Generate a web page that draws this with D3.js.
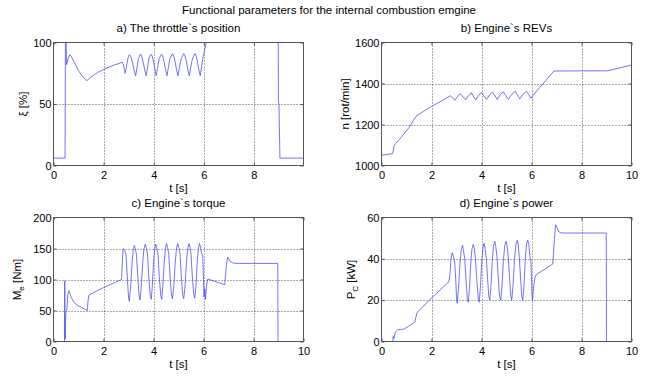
<!DOCTYPE html>
<html><head><meta charset="utf-8">
<script src="https://cdn.jsdelivr.net/npm/d3@7"></script>
<style>body{margin:0;background:#fff} text{font-family:"Liberation Sans",Arial,sans-serif;fill:#000}</style>
</head><body><svg id="c" width="648" height="378"></svg>
<script>
// ---- data ----
const figTitle = "Functional parameters for the internal combustion emgine";
const panelTitles = ["a) The throttle`s position", "b) Engine`s REVs", "c) Engine`s torque", "d) Engine`s power"];
const xLabel = "t [s]";

const xTicksA = [0, 2, 4, 6, 8];
const xTicks = [0, 2, 4, 6, 8, 10];
const yTicksA = [0, 50, 100];
const yTicksB = [1000, 1200, 1400, 1600];
const yTicksC = [0, 50, 100, 150, 200];
const yTicksD = [0, 20, 40, 60];

// throttle position xi [%]  (t [s], value)
const throttle = [
 [0,6],[0.45,6],[0.46,6],[0.48,115],[0.50,105],[0.52,82],[0.55,84],[0.60,88],[0.65,90],[0.70,89],
 [0.80,85],[0.90,81],[1.00,77],[1.10,74],[1.20,71.5],[1.33,69],[1.50,72],[1.80,76],[2.10,79],[2.40,81.5],[2.75,84],
 [2.80,81],[2.86,75],[2.91,80],[2.97,87],[3.03,90],[3.09,88.5],[3.15,84],[3.21,78],[3.28,73],
 [3.33,79],[3.39,87],[3.47,90.5],[3.52,89],[3.58,84],[3.64,78],[3.70,73],
 [3.75,79],[3.81,87],[3.89,90.5],[3.94,89],[4.00,84],[4.05,78],[4.10,73],
 [4.15,79],[4.22,87],[4.31,90.5],[4.36,89],[4.42,84],[4.47,78],[4.53,73],
 [4.58,79],[4.65,87],[4.75,91],[4.80,89],[4.86,84],[4.91,78],[4.97,73],
 [5.02,79],[5.10,87],[5.20,91],[5.25,89],[5.31,84],[5.36,78],[5.42,73],
 [5.47,79],[5.55,87],[5.65,91],[5.70,89],[5.75,84],[5.80,78],[5.86,73],
 [5.91,80],[5.97,88],[6.03,94],[6.10,100],[6.20,112],[8.97,112],[8.98,53],[9.00,50],[9.04,6],[9.98,6]
];

// engine speed n [rot/min]
const revs = [
 [0,1050],[0.45,1058],[0.50,1095],[0.55,1104],[0.80,1140],[1.10,1185],[1.38,1240],[1.70,1266],[2.00,1288],[2.40,1315],[2.75,1340],
 [2.85,1330],[2.93,1318],[3.05,1338],[3.16,1350],[3.27,1334],[3.37,1320],[3.48,1341],[3.59,1355],[3.68,1337],[3.77,1320],
 [3.89,1343],[4.00,1357],[4.10,1339],[4.20,1322],[4.32,1344],[4.44,1358],[4.54,1340],[4.63,1322],[4.75,1345],[4.87,1360],
 [4.97,1341],[5.07,1323],[5.21,1347],[5.35,1362],[5.44,1343],[5.53,1325],[5.66,1348],[5.80,1362],[5.89,1345],[5.98,1328],
 [6.10,1348],[6.50,1404],[6.90,1461],[9.05,1462],[10,1490]
];

// engine torque Me [Nm]
const torque = [
 [0,0],[0.44,0],[0.45,98],[0.46,10],[0.47,4],[0.49,45],[0.53,50],[0.58,78],[0.62,82],[0.70,72],[0.80,64],[0.93,59],[1.35,50],
 [1.38,65],[1.42,75],[2.00,87],[2.72,100],
 [2.75,125],[2.78,148],[2.80,150],[2.84,147],[2.90,141],[2.95,105],[3.00,72],[3.03,65],
 [3.08,85],[3.14,125],[3.19,148],[3.23,155],[3.27,150],[3.32,140],[3.37,105],[3.42,75],[3.46,67],
 [3.51,88],[3.57,128],[3.62,150],[3.67,157],[3.71,151],[3.76,141],[3.81,105],[3.87,74],[3.91,68],
 [3.95,88],[4.00,128],[4.05,150],[4.09,157],[4.13,151],[4.18,141],[4.23,105],[4.29,74],[4.33,68],
 [4.37,88],[4.43,128],[4.48,151],[4.52,158],[4.56,152],[4.61,142],[4.66,106],[4.72,75],[4.76,69],
 [4.81,88],[4.87,128],[4.92,151],[4.97,158],[5.01,152],[5.06,142],[5.11,106],[5.17,75],[5.21,69],
 [5.26,89],[5.32,129],[5.37,151],[5.42,158],[5.46,152],[5.50,142],[5.55,106],[5.61,76],[5.65,70],
 [5.70,90],[5.75,129],[5.80,151],[5.84,158],[5.88,152],[5.92,143],[5.97,138],[6.00,100],[6.02,72],[6.05,85],[6.08,68],
 [6.12,90],[6.17,101],[6.30,99],[6.60,95],[6.85,91.5],[6.92,125],[6.97,136],[7.05,130],[7.15,127],[7.30,126],
 [8.97,126],[8.98,0],[10,0]
];

// engine power Pc [kW]
const power = [
 [0,0],[0.45,0],[0.47,2.5],[0.50,1.5],[0.55,4.5],[0.65,5.7],[0.90,6],[1.33,9.3],[1.36,11],[1.42,14],[2.00,21],[2.70,29],
 [2.74,33],[2.78,40],[2.83,43],[2.88,41],[2.93,38],[2.97,30],[3.00,21],[3.03,18.5],
 [3.08,26],[3.14,38],[3.19,44.5],[3.24,46.5],[3.28,44],[3.33,40],[3.38,30],[3.43,21],[3.47,19],
 [3.52,26],[3.57,38],[3.62,45],[3.67,47],[3.71,45],[3.76,40],[3.81,30],[3.87,21],[3.91,19],
 [3.96,27],[4.01,39],[4.06,45.5],[4.10,47.5],[4.14,45.5],[4.19,40.5],[4.24,31],[4.29,22],[4.33,20],
 [4.38,27],[4.43,39],[4.48,46],[4.53,48.5],[4.57,46],[4.62,41],[4.67,31],[4.72,22],[4.77,20],
 [4.82,27],[4.88,40],[4.93,46.5],[4.98,48.5],[5.02,46.5],[5.07,41],[5.12,31],[5.17,22],[5.21,20],
 [5.26,27],[5.32,40],[5.38,47],[5.43,49],[5.47,47],[5.51,41],[5.56,31],[5.61,22],[5.65,20],
 [5.70,27],[5.75,40],[5.80,47],[5.85,49],[5.89,47],[5.94,41],[5.98,38],[6.00,30],[6.02,22],[6.04,20],
 [6.07,24],[6.10,28],[6.14,31],[6.20,32.5],[6.40,34],[6.85,37.5],[6.92,50],[6.96,56.5],[7.02,55],[7.10,53],[7.20,52.5],
 [8.99,52.5],[9.00,0],[10,0]
];

// ---- layout ----
const svg = d3.select("#c");
svg.append("rect").attr("width",648).attr("height",378).attr("fill","#fff");

svg.append("text").attr("x",329).attr("y",13.5).attr("text-anchor","middle")
  .style("font-size","11.5px").text(figTitle);

const panels = [
 {x0:53.5,x1:303.5,y0:42.5,y1:165.5,xd:[0,9.98],yd:[0,100],xt:xTicksA,yt:yTicksA,data:throttle,title:panelTitles[0],ylab:["ξ","", " [%]"],ylx:27},
 {x0:381.5,x1:631.5,y0:42.5,y1:165.5,xd:[0,10],yd:[1000,1600],xt:xTicks,yt:yTicksB,data:revs,title:panelTitles[1],ylab:["n","", " [rot/min]"],ylx:349},
 {x0:53.5,x1:303.5,y0:217.5,y1:341.5,xd:[0,10],yd:[0,200],xt:xTicks,yt:yTicksC,data:torque,title:panelTitles[2],ylab:["M","e"," [Nm]"],ylx:21},
 {x0:381.5,x1:631.5,y0:217.5,y1:341.5,xd:[0,10],yd:[0,60],xt:xTicks,yt:yTicksD,data:power,title:panelTitles[3],ylab:["P","C"," [kW]"],ylx:355}
];

panels.forEach((p,i)=>{
  const x = d3.scaleLinear().domain(p.xd).range([p.x0,p.x1]);
  const y = d3.scaleLinear().domain(p.yd).range([p.y1,p.y0]);
  const g = svg.append("g");

  // grid
  const grid = g.append("g").attr("stroke","#000").attr("stroke-width",0.8)
     .attr("stroke-dasharray","1,2").attr("opacity",0.8);
  p.xt.forEach(t=>{ if (x(t)>p.x0+1 && x(t)<p.x1-1)
     grid.append("line").attr("x1",Math.round(x(t))+0.5).attr("x2",Math.round(x(t))+0.5).attr("y1",p.y0).attr("y2",p.y1);});
  p.yt.forEach(t=>{ if (y(t)>p.y0+1 && y(t)<p.y1-1)
     grid.append("line").attr("y1",Math.round(y(t))+0.5).attr("y2",Math.round(y(t))+0.5).attr("x1",p.x0).attr("x2",p.x1);});

  // data line (clipped)
  const cid = "clip"+i;
  svg.append("clipPath").attr("id",cid).append("rect")
    .attr("x",p.x0).attr("y",p.y0).attr("width",p.x1-p.x0).attr("height",p.y1-p.y0);
  const line = d3.line().x(d=>x(d[0])).y(d=>y(d[1]));
  g.append("path").datum(p.data).attr("clip-path","url(#"+cid+")")
    .attr("fill","none").attr("stroke","#4444ff").attr("stroke-width",0.75).attr("d",line);

  // box
  g.append("rect").attr("x",p.x0).attr("y",p.y0).attr("width",p.x1-p.x0).attr("height",p.y1-p.y0)
    .attr("fill","none").attr("stroke","#555").attr("stroke-width",1);

  // axes (ticks inward, labels)
  const xa = d3.axisBottom(x).tickValues(p.xt).tickSize(-3).tickPadding(6).tickFormat(d3.format("d"));
  const ya = d3.axisLeft(y).tickValues(p.yt).tickSize(-3).tickPadding(2).tickFormat(d3.format("d"));
  const gx = g.append("g").attr("transform",`translate(0,${p.y1})`).call(xa);
  const gy = g.append("g").attr("transform",`translate(${p.x0},0)`).call(ya);
  [gx,gy].forEach(a=>{
    a.select(".domain").remove();
    a.selectAll("line").attr("stroke","#555");
    a.selectAll("text").style("font-size","11px").attr("fill","#000");
  });
  // mirrored ticks on top/right
  const gt = g.append("g").attr("transform",`translate(0,${p.y0})`).call(d3.axisTop(x).tickValues(p.xt).tickSize(-3).tickFormat(""));
  const gr = g.append("g").attr("transform",`translate(${p.x1},0)`).call(d3.axisRight(y).tickValues(p.yt).tickSize(-3).tickFormat(""));
  [gt,gr].forEach(a=>{ a.select(".domain").remove(); a.selectAll("line").attr("stroke","#555"); });

  // titles
  const cx = (p.x0+p.x1)/2;
  g.append("text").attr("x",cx).attr("y",p.y0-10.5).attr("text-anchor","middle").style("font-size","11.5px").text(p.title);
  g.append("text").attr("x",cx).attr("y",p.y1+26.5).attr("text-anchor","middle").style("font-size","11.5px").text(xLabel);

  // y label
  const cy = (p.y0+p.y1)/2;
  const yl = g.append("text").attr("transform",`translate(${p.ylx},${cy}) rotate(-90)`)
    .attr("text-anchor","middle").style("font-size","11.5px");
  yl.append("tspan").text(p.ylab[0]);
  if (p.ylab[1]) {
    yl.append("tspan").attr("dy",3).style("font-size","8px").text(p.ylab[1]);
    yl.append("tspan").attr("dy",-3).text(p.ylab[2]);
  } else {
    yl.append("tspan").text(p.ylab[2]);
  }
});
</script></body></html>
